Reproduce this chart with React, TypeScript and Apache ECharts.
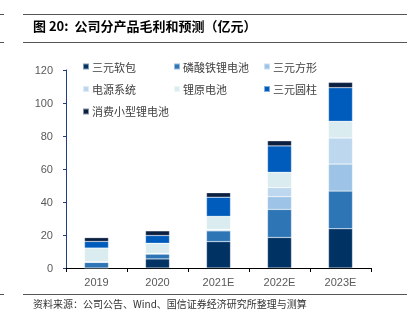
import React, { useEffect, useRef } from "react";
import * as echarts from "echarts";

const categories = ["2019", "2020", "2021E", "2022E", "2023E"];
const seriesNames = ["三元软包", "磷酸铁锂电池", "三元方形", "电源系统", "锂原电池", "三元圆柱", "消费小型锂电池"];
const sanyuanRuanbao = [0, 5.5, 16.0, 18.5, 23.8];
const linsuantieli = [3.4, 3.0, 6.5, 17.0, 22.8];
const sanyuanFangxing = [0, 0, 0.6, 7.7, 16.4];
const dianyuanXitong = [0.4, 0.3, 0.3, 5.5, 15.8];
const liyuanDianchi = [8.3, 6.2, 7.9, 9.3, 10.1];
const sanyuanYuanzhu = [4.0, 4.7, 11.6, 16.0, 20.4];
const xiaofeiXiaoxing = [2.3, 2.8, 2.7, 3.1, 3.2];
const yTicks = [0, 20, 40, 60, 80, 100, 120];

const seriesData = [sanyuanRuanbao, linsuantieli, sanyuanFangxing, dianyuanXitong, liyuanDianchi, sanyuanYuanzhu, xiaofeiXiaoxing];
const colors = ["#003264", "#2e75b6", "#9dc3e6", "#bdd7ee", "#daecef", "#005cbc", "#0b1f40"];

const FONT = "'Noto Sans CJK SC', 'Liberation Sans', sans-serif";

export default function App() {
  const ref = useRef<HTMLDivElement>(null);
  useEffect(() => {
    if (!ref.current) return;
    const chart = echarts.init(ref.current, undefined, { renderer: "svg" });
    const legendCommon = {
      orient: "vertical" as const,
      top: 61,
      itemWidth: 6,
      itemHeight: 6,
      itemGap: 11.5,
      icon: "rect",
      textStyle: { fontSize: 11, color: "#404040", fontFamily: FONT, padding: [0, 0, 0, -2] },
      padding: 0,
    };
    chart.setOption({
      animation: false,
      color: colors,
      grid: { left: 66, right: 42, top: 70, bottom: 57 },
      legend: [
        { ...legendCommon, left: 82, data: [seriesNames[0], seriesNames[3], seriesNames[6]] },
        { ...legendCommon, left: 173, data: [seriesNames[1], seriesNames[4]] },
        { ...legendCommon, left: 263, data: [seriesNames[2], seriesNames[5]] },
      ],
      xAxis: {
        type: "category",
        data: categories,
        axisLine: { lineStyle: { color: "#000000", width: 1 } },
        axisTick: { show: true, length: 4, lineStyle: { color: "#000000" } },
        axisLabel: { fontSize: 11, color: "#595959", fontFamily: "'Liberation Sans', Arial, sans-serif", margin: 8 },
      },
      yAxis: {
        type: "value",
        min: yTicks[0],
        max: yTicks[yTicks.length - 1],
        interval: 20,
        splitLine: { show: false },
        axisLine: { show: true, lineStyle: { color: "#1f3f7f", width: 1 } },
        axisTick: { show: true, length: 3, lineStyle: { color: "#1f3f7f" } },
        axisLabel: { fontSize: 11, color: "#595959", fontFamily: "'Liberation Sans', Arial, sans-serif", margin: 13 },
      },
      series: seriesNames.map((name, i) => ({
        name,
        type: "bar",
        stack: "total",
        barWidth: 24,
        data: seriesData[i],
        itemStyle: { color: colors[i], borderColor: "rgba(255,255,255,0.5)", borderWidth: 0.5 },
      })),
      graphic: [
        { type: "line", shape: { x1: 0, y1: 14.5, x2: 4, y2: 14.5 }, style: { stroke: "#555", lineWidth: 1 } },
        { type: "line", shape: { x1: 23, y1: 14.5, x2: 407, y2: 14.5 }, style: { stroke: "#555", lineWidth: 1 } },
        { type: "line", shape: { x1: 0, y1: 42.5, x2: 4, y2: 42.5 }, style: { stroke: "#555", lineWidth: 1 } },
        { type: "line", shape: { x1: 23, y1: 42.5, x2: 407, y2: 42.5 }, style: { stroke: "#555", lineWidth: 1 } },
        {
          type: "text",
          left: 33,
          top: 19,
          style: { text: "图 20:  公司分产品毛利和预测（亿元）", font: `bold 13px ${FONT}`, fill: "#000" },
        },
        { type: "line", shape: { x1: 0, y1: 294.5, x2: 4, y2: 294.5 }, style: { stroke: "#555", lineWidth: 1 } },
        { type: "line", shape: { x1: 23, y1: 294.5, x2: 407, y2: 294.5 }, style: { stroke: "#555", lineWidth: 1 } },
        {
          type: "text",
          left: 33,
          top: 298,
          style: { text: "资料来源：公司公告、Wind、国信证券经济研究所整理与测算", font: `10px ${FONT}`, fill: "#333" },
        },
      ],
    });
    return () => chart.dispose();
  }, []);
  return <div ref={ref} style={{ position: "fixed", left: 0, top: 0, width: 413, height: 325 }} />;
}
